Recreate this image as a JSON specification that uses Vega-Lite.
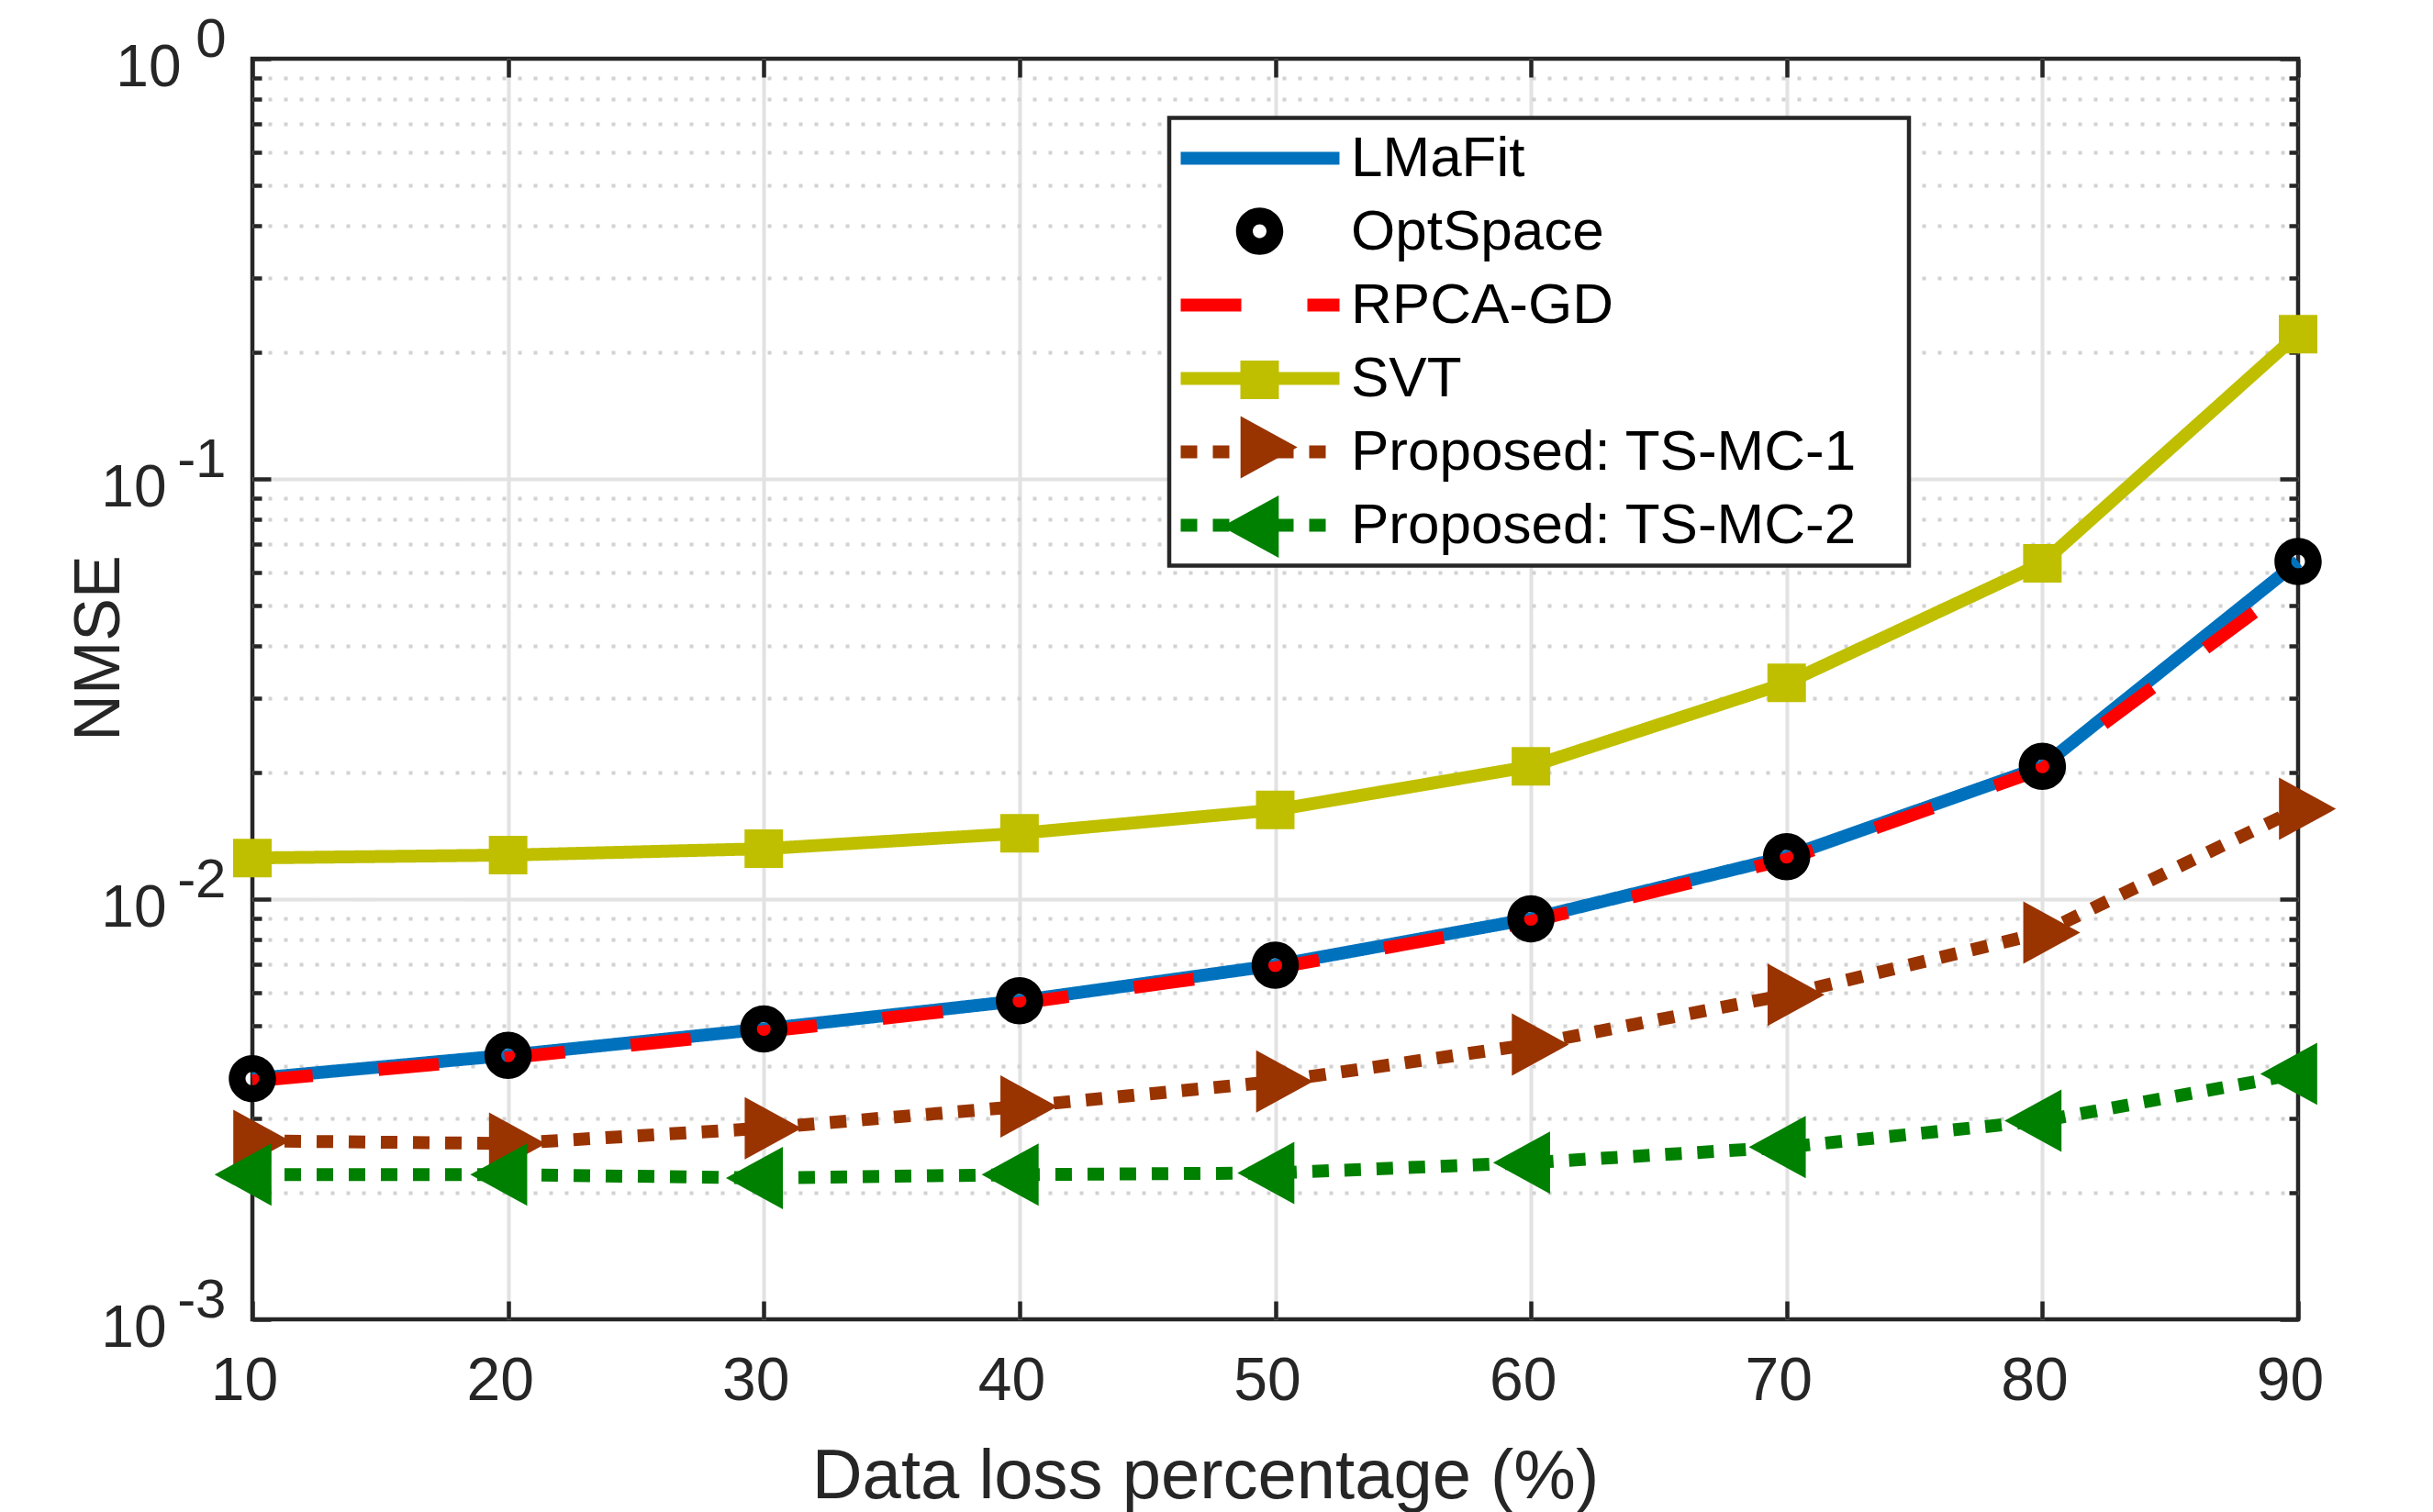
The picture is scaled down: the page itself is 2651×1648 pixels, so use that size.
{
  "$schema": "https://vega.github.io/schema/vega-lite/v6.json",
  "width": 2229,
  "height": 1374,
  "autosize": {"type": "none"},
  "padding": {"left": 275, "top": 64, "right": 147, "bottom": 210},
  "background": "white",
  "data": {
    "values": [
      {"loss": 10, "nmse": 0.00374, "method": "LMaFit"},
      {"loss": 20, "nmse": 0.00425, "method": "LMaFit"},
      {"loss": 30, "nmse": 0.00491, "method": "LMaFit"},
      {"loss": 40, "nmse": 0.00573, "method": "LMaFit"},
      {"loss": 50, "nmse": 0.00696, "method": "LMaFit"},
      {"loss": 60, "nmse": 0.00898, "method": "LMaFit"},
      {"loss": 70, "nmse": 0.01262, "method": "LMaFit"},
      {"loss": 80, "nmse": 0.0207, "method": "LMaFit"},
      {"loss": 90, "nmse": 0.0636, "method": "LMaFit"},
      {"loss": 10, "nmse": 0.00374, "method": "OptSpace"},
      {"loss": 20, "nmse": 0.00425, "method": "OptSpace"},
      {"loss": 30, "nmse": 0.00491, "method": "OptSpace"},
      {"loss": 40, "nmse": 0.00573, "method": "OptSpace"},
      {"loss": 50, "nmse": 0.00696, "method": "OptSpace"},
      {"loss": 60, "nmse": 0.00898, "method": "OptSpace"},
      {"loss": 70, "nmse": 0.01262, "method": "OptSpace"},
      {"loss": 80, "nmse": 0.0207, "method": "OptSpace"},
      {"loss": 90, "nmse": 0.0636, "method": "OptSpace"},
      {"loss": 10, "nmse": 0.00369, "method": "RPCA-GD"},
      {"loss": 20, "nmse": 0.00419, "method": "RPCA-GD"},
      {"loss": 30, "nmse": 0.00484, "method": "RPCA-GD"},
      {"loss": 40, "nmse": 0.00565, "method": "RPCA-GD"},
      {"loss": 50, "nmse": 0.00686, "method": "RPCA-GD"},
      {"loss": 60, "nmse": 0.00885, "method": "RPCA-GD"},
      {"loss": 70, "nmse": 0.01243, "method": "RPCA-GD"},
      {"loss": 80, "nmse": 0.0204, "method": "RPCA-GD"},
      {"loss": 90, "nmse": 0.0575, "method": "RPCA-GD"},
      {"loss": 10, "nmse": 0.01253, "method": "SVT"},
      {"loss": 20, "nmse": 0.01273, "method": "SVT"},
      {"loss": 30, "nmse": 0.01318, "method": "SVT"},
      {"loss": 40, "nmse": 0.01434, "method": "SVT"},
      {"loss": 50, "nmse": 0.0163, "method": "SVT"},
      {"loss": 60, "nmse": 0.0207, "method": "SVT"},
      {"loss": 70, "nmse": 0.0327, "method": "SVT"},
      {"loss": 80, "nmse": 0.063, "method": "SVT"},
      {"loss": 90, "nmse": 0.221, "method": "SVT"},
      {"loss": 10, "nmse": 0.00266, "method": "Proposed: TS-MC-1"},
      {"loss": 20, "nmse": 0.00262, "method": "Proposed: TS-MC-1"},
      {"loss": 30, "nmse": 0.00285, "method": "Proposed: TS-MC-1"},
      {"loss": 40, "nmse": 0.00321, "method": "Proposed: TS-MC-1"},
      {"loss": 50, "nmse": 0.00368, "method": "Proposed: TS-MC-1"},
      {"loss": 60, "nmse": 0.00451, "method": "Proposed: TS-MC-1"},
      {"loss": 70, "nmse": 0.00592, "method": "Proposed: TS-MC-1"},
      {"loss": 80, "nmse": 0.00832, "method": "Proposed: TS-MC-1"},
      {"loss": 90, "nmse": 0.0164, "method": "Proposed: TS-MC-1"},
      {"loss": 10, "nmse": 0.00221, "method": "Proposed: TS-MC-2"},
      {"loss": 20, "nmse": 0.00221, "method": "Proposed: TS-MC-2"},
      {"loss": 30, "nmse": 0.00217, "method": "Proposed: TS-MC-2"},
      {"loss": 40, "nmse": 0.00221, "method": "Proposed: TS-MC-2"},
      {"loss": 50, "nmse": 0.00223, "method": "Proposed: TS-MC-2"},
      {"loss": 60, "nmse": 0.00236, "method": "Proposed: TS-MC-2"},
      {"loss": 70, "nmse": 0.00257, "method": "Proposed: TS-MC-2"},
      {"loss": 80, "nmse": 0.00297, "method": "Proposed: TS-MC-2"},
      {"loss": 90, "nmse": 0.00384, "method": "Proposed: TS-MC-2"}
    ]
  },
  "layer": [
    {
      "transform": [{"filter": "datum.method === 'LMaFit'"}],
      "mark": {"type": "line", "strokeWidth": 14, "strokeCap": "butt", "strokeJoin": "round"},
      "encoding": {
        "x": {"field": "loss", "type": "quantitative", "scale": {"domain": [10, 90], "nice": false, "zero": false},
          "axis": {"orient": "bottom", "values": [10, 20, 30, 40, 50, 60, 70, 80, 90], "ticks": false, "tickSize": 0,
            "labelFontSize": 66, "labelBaseline": "alphabetic", "labelPadding": 87, "labelOffset": -9,
            "grid": true, "gridOpacity": {"condition": {"test": "datum.value === 10 || datum.value === 90", "value": 0}, "value": 1},
            "title": "Data loss percentage (%)", "titleFontSize": 76, "titleX": 1038, "titleY": 194,
            "titleBaseline": "alphabetic", "titleAlign": "center"}},
        "y": {"field": "nmse", "type": "quantitative", "scale": {"type": "log", "domain": [0.001, 1], "nice": false},
          "axis": {"orient": "left",
            "values": [0.001, 0.002, 0.003, 0.004, 0.005, 0.006, 0.007, 0.008, 0.009, 0.01, 0.02, 0.03, 0.04, 0.05, 0.06, 0.07, 0.08, 0.09, 0.1, 0.2, 0.3, 0.4, 0.5, 0.6, 0.7, 0.8, 0.9, 1],
            "labels": false,
            "tickSize": {"condition": {"test": "datum.value === 0.001 || datum.value === 0.01 || datum.value === 0.1 || datum.value === 1", "value": -20}, "value": -10},
            "grid": true,
            "gridDash": {"condition": {"test": "datum.value === 0.001 || datum.value === 0.01 || datum.value === 0.1 || datum.value === 1", "value": [1, 0]}, "value": [4, 13]},
            "gridColor": {"condition": {"test": "datum.value === 0.001 || datum.value === 0.01 || datum.value === 0.1 || datum.value === 1", "value": "#E2E2E2"}, "value": "#D2D2D2"},
            "gridOpacity": {"condition": {"test": "datum.value === 0.001 || datum.value === 1", "value": 0}, "value": 1},
            "title": "NMSE", "titleFontSize": 70, "titleX": -146, "titleY": 642, "titleAngle": 270,
            "titleBaseline": "alphabetic", "titleAlign": "center"}},
        "stroke": {"field": "method", "type": "nominal",
          "scale": {"domain": ["LMaFit", "OptSpace", "RPCA-GD", "SVT", "Proposed: TS-MC-1", "Proposed: TS-MC-2"],
            "range": ["#0072BD", "#000000", "#FF0000", "#BFBF00", "#993300", "#008000"]},
          "legend": {"orient": "none", "legendX": 999, "legendY": 64.5, "title": null,
            "symbolType": "M-4.325,0L4.325,0M33.28,0L33.28,0", "symbolSize": 1600, "symbolStrokeWidth": 14, "symbolOffset": 55,
            "labelOffset": 68, "labelFontSize": 62, "labelColor": "#000000", "labelLimit": 2000,
            "rowPadding": 18, "padding": 13,
            "fillColor": "white", "strokeColor": "#262626", "zindex": 0}},
        "strokeDash": {"field": "method", "type": "nominal",
          "scale": {"domain": ["LMaFit", "OptSpace", "RPCA-GD", "SVT", "Proposed: TS-MC-1", "Proposed: TS-MC-2"],
            "range": [[1, 0], [0, 1000], [66, 72], [1, 0], [18, 17], [18, 17]]},
          "legend": {"orient": "none", "legendX": 999, "legendY": 64.5, "title": null,
            "symbolType": "M-4.325,0L4.325,0M33.28,0L33.28,0", "symbolSize": 1600, "symbolStrokeWidth": 14, "symbolOffset": 55,
            "labelOffset": 68, "labelFontSize": 62, "labelColor": "#000000", "labelLimit": 2000,
            "rowPadding": 18, "padding": 13,
            "fillColor": "white", "strokeColor": "#262626", "zindex": 0}}
      }
    },
    {
      "transform": [{"filter": "datum.method === 'RPCA-GD'"}],
      "mark": {"type": "line", "strokeWidth": 14, "strokeCap": "butt", "strokeJoin": "round"},
      "encoding": {
        "x": {"field": "loss", "type": "quantitative",
          "axis": {"orient": "bottom", "values": [10, 20, 30, 40, 50, 60, 70, 80, 90], "tickSize": -20, "labels": false, "grid": false, "title": null}},
        "y": {"field": "nmse", "type": "quantitative",
          "axis": {"orient": "left", "values": [0.001, 0.01, 0.1, 1], "labelExpr": "'10'", "labelAlign": "right", "labelBaseline": "middle",
            "labelPadding": {"condition": {"test": "datum.value === 1", "value": 78}, "value": 94},
            "labelFontSize": 64, "labelOffset": 10, "ticks": false, "tickSize": 0, "grid": false, "title": null}},
        "stroke": {"field": "method", "type": "nominal"},
        "strokeDash": {"field": "method", "type": "nominal"}
      }
    },
    {
      "transform": [{"filter": "datum.method === 'SVT'"}],
      "mark": {"type": "line", "strokeWidth": 14, "strokeCap": "butt", "strokeJoin": "round"},
      "encoding": {
        "x": {"field": "loss", "type": "quantitative",
          "axis": {"orient": "top", "values": [10, 20, 30, 40, 50, 60, 70, 80, 90], "tickSize": -20, "labels": false, "grid": false, "title": null}},
        "y": {"field": "nmse", "type": "quantitative",
          "axis": {"orient": "left", "values": [0.001, 0.01, 0.1, 1], "labelExpr": "'' + round(log(datum.value) / LN10)", "labelAlign": "right", "labelBaseline": "middle",
            "labelPadding": 29, "labelFontSize": 60, "labelOffset": -21, "ticks": false, "tickSize": 0, "grid": false, "title": null}},
        "stroke": {"field": "method", "type": "nominal"},
        "strokeDash": {"field": "method", "type": "nominal"}
      }
    },
    {
      "transform": [{"filter": "datum.method === 'Proposed: TS-MC-1'"}],
      "mark": {"type": "line", "strokeWidth": 14, "strokeCap": "butt", "strokeJoin": "round"},
      "encoding": {
        "x": {"field": "loss", "type": "quantitative", "axis": null},
        "y": {"field": "nmse", "type": "quantitative",
          "axis": {"orient": "right",
            "values": [0.001, 0.002, 0.003, 0.004, 0.005, 0.006, 0.007, 0.008, 0.009, 0.01, 0.02, 0.03, 0.04, 0.05, 0.06, 0.07, 0.08, 0.09, 0.1, 0.2, 0.3, 0.4, 0.5, 0.6, 0.7, 0.8, 0.9, 1],
            "labels": false, "grid": false, "title": null,
            "tickSize": {"condition": {"test": "datum.value === 0.001 || datum.value === 0.01 || datum.value === 0.1 || datum.value === 1", "value": -20}, "value": -10}}},
        "stroke": {"field": "method", "type": "nominal"},
        "strokeDash": {"field": "method", "type": "nominal"}
      }
    },
    {
      "transform": [{"filter": "datum.method === 'Proposed: TS-MC-2'"}],
      "mark": {"type": "line", "strokeWidth": 14, "strokeCap": "butt", "strokeJoin": "round"},
      "encoding": {
        "x": {"field": "loss", "type": "quantitative", "axis": null},
        "y": {"field": "nmse", "type": "quantitative", "axis": null},
        "stroke": {"field": "method", "type": "nominal"},
        "strokeDash": {"field": "method", "type": "nominal"}
      }
    },
    {
      "mark": {"type": "point", "filled": true, "opacity": 1, "size": 4356, "strokeWidth": 0},
      "encoding": {
        "x": {"field": "loss", "type": "quantitative", "axis": null},
        "y": {"field": "nmse", "type": "quantitative", "axis": null},
        "fill": {"field": "method", "type": "nominal",
          "scale": {"domain": ["LMaFit", "OptSpace", "RPCA-GD", "SVT", "Proposed: TS-MC-1", "Proposed: TS-MC-2", "zz"],
            "range": ["transparent", "#000000", "transparent", "#BFBF00", "#993300", "#008000", "transparent"]},
          "legend": {"orient": "none", "legendX": 1064.5, "legendY": 70.5, "title": null,
            "symbolSize": 4356, "symbolStrokeWidth": 0, "symbolOpacity": 1, "symbolOffset": 0,
            "labelExpr": "''", "labelFontSize": 10, "rowPadding": 18.5, "padding": 0,
            "fillColor": "transparent", "strokeColor": "transparent", "zindex": 1}},
        "shape": {"field": "method", "type": "nominal",
          "scale": {"domain": ["LMaFit", "OptSpace", "RPCA-GD", "SVT", "Proposed: TS-MC-1", "Proposed: TS-MC-2", "zz"],
            "range": [
            "circle",
            "M0.78,0C0.78,0.431 0.431,0.78 0,0.78C-0.431,0.78 -0.78,0.431 -0.78,0C-0.78,-0.431 -0.431,-0.78 0,-0.78C0.431,-0.78 0.78,-0.431 0.78,0ZM0.227,0C0.227,-0.125 0.125,-0.227 0,-0.227C-0.125,-0.227 -0.227,-0.125 -0.227,0C-0.227,0.125 -0.125,0.227 0,0.227C0.125,0.227 0.227,0.125 0.227,0Z",
            "circle",
            "M-0.636,-0.636L0.636,-0.636L0.636,0.636L-0.636,0.636Z",
            "M1.25,0L-0.63,-1.03L-0.63,1.03Z",
            "M-1.25,0L0.63,-1.03L0.63,1.03Z",
            "circle"]},
          "legend": {"orient": "none", "legendX": 1064.5, "legendY": 70.5, "title": null,
            "symbolSize": 4356, "symbolStrokeWidth": 0, "symbolOpacity": 1, "symbolOffset": 0,
            "labelExpr": "''", "labelFontSize": 10, "rowPadding": 18.5, "padding": 0,
            "fillColor": "transparent", "strokeColor": "transparent", "zindex": 1}}
      }
    }
  ],
  "resolve": {"axis": {"x": "independent", "y": "independent"}},
  "config": {
    "font": "Liberation Sans",
    "view": {"stroke": "#262626", "strokeWidth": 4.5},
    "axis": {
      "labelFont": "Liberation Sans", "titleFont": "Liberation Sans",
      "labelColor": "#262626", "titleColor": "#262626", "tickColor": "#262626",
      "tickWidth": 4.5, "labelFlush": false, "labelOverlap": false, "labelBound": false,
      "titleFontWeight": "normal", "domain": false,
      "gridColor": "#E2E2E2", "gridWidth": 4, "gridOpacity": 1
    },
    "legend": {"labelFont": "Liberation Sans", "titleFont": "Liberation Sans", "strokeWidth": 4.5, "cornerRadius": 0}
  }
}
